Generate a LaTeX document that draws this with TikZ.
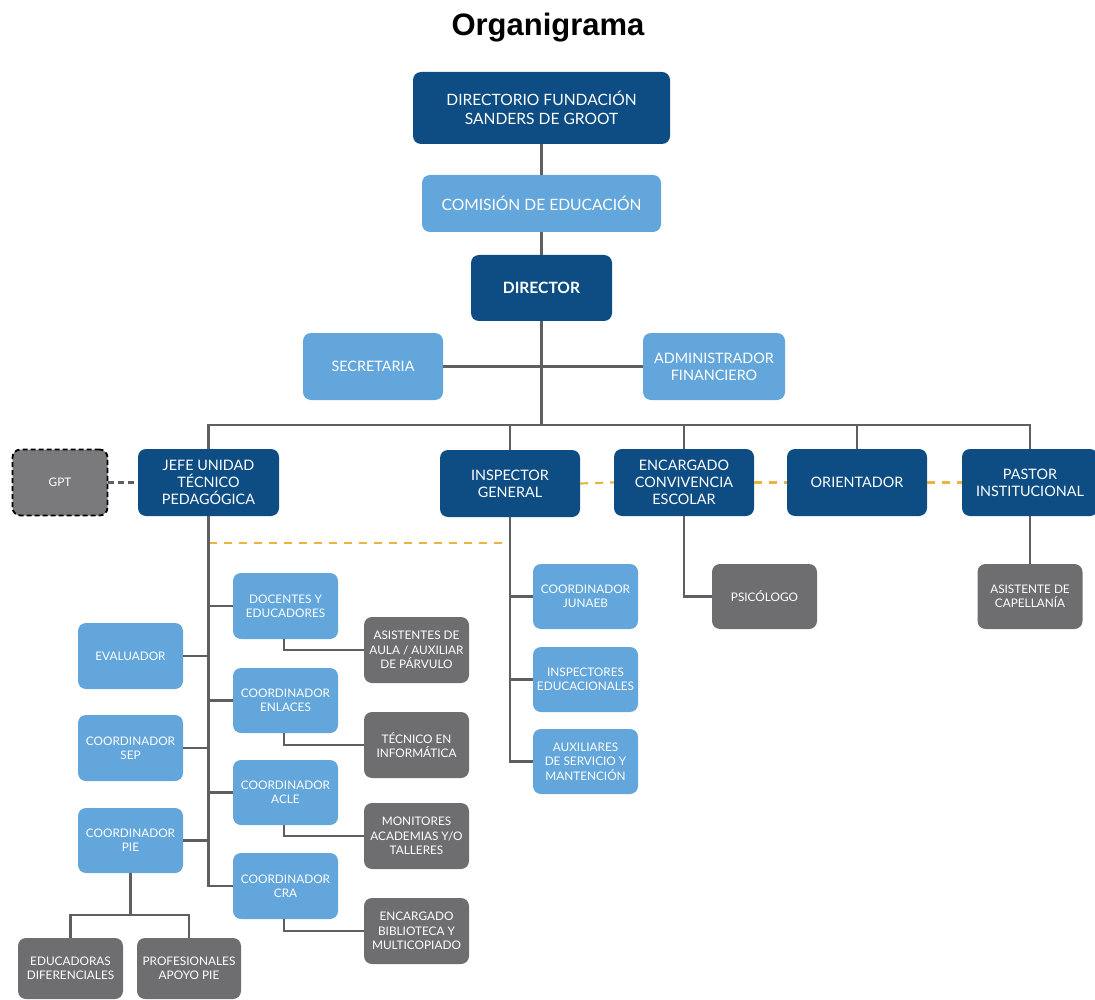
\documentclass[tikz,border=0pt]{standalone}
\usepackage{fontspec}
\setmainfont{Lato}
\newfontfamily\titlefont{Liberation Sans}
\definecolor{dblue}{HTML}{0D4D83}
\definecolor{lblue}{HTML}{62A6DB}
\definecolor{dgray}{HTML}{6E6E70}
\definecolor{ggray}{HTML}{7A7A7C}
\definecolor{lnc}{HTML}{5F5F61}
\definecolor{gold}{HTML}{E9B444}
\begin{document}
\begin{tikzpicture}[x=1pt,y=-1pt,
  box/.style={rounded corners=8pt, text=white, align=center, inner sep=1pt},
  dk/.style={box, fill=dblue},
  lb/.style={box, fill=lblue},
  gr/.style={box, fill=dgray},
  bigf/.style={font=\fontsize{15.6}{19.5}\selectfont},
  midf/.style={font=\fontsize{14.4}{17.2}\selectfont},
  smf/.style={font=\fontsize{11.8}{14.4}\selectfont},
  sz/.style 2 args={minimum width=#1pt, minimum height=#2pt},
  conn/.style={draw=lnc, line width=2.2pt},
  gdash/.style={draw=gold, line width=2.2pt, dash pattern=on 8pt off 7pt},
  kdash/.style={draw=lnc, line width=2.2pt, dash pattern=on 6pt off 4pt}]
\useasboundingbox (0,0) rectangle (1095,1000);

\node[font=\titlefont\bfseries\fontsize{31}{31}\selectfont] (title) at (548,28) {Organigrama};

% top chain
\node[dk, bigf, sz={257}{72}] (dirf) at (541.5,108) {DIRECTORIO FUNDACIÓN\\SANDERS DE GROOT};
\node[lb, bigf, sz={239}{57}] (com) at (541.5,203.5) {COMISIÓN DE EDUCACIÓN};
\node[dk, font=\fontsize{15.6}{19}\selectfont\bfseries, sz={141}{66}] (dir) at (541.5,288) {DIRECTOR};
\node[lb, midf, sz={140}{67}] (sec) at (373,366.5) {SECRETARIA};
\node[lb, midf, sz={142}{67}] (adm) at (714,366.5) {ADMINISTRADOR\\FINANCIERO};
\coordinate (bus) at (541.5,425);

% second row
\node[box, fill=ggray, draw=black, line width=1.8pt, dash pattern=on 5pt off 3pt, font=\fontsize{11.8}{14}\selectfont, sz={95}{66}] (gpt) at (60,482.5) {GPT};
\node[dk, midf, sz={141}{67}] (jefe) at (208.5,482.5) {JEFE UNIDAD\\TÉCNICO\\PEDAGÓGICA};
\node[dk, midf, sz={140}{67}] (insp) at (510,483.5) {INSPECTOR\\GENERAL};
\node[dk, midf, sz={140}{67}] (enc) at (684,482.5) {ENCARGADO\\CONVIVENCIA\\ESCOLAR};
\node[dk, midf, sz={140}{67}] (ori) at (857,482.5) {ORIENTADOR};
\node[dk, midf, sz={136}{67}] (pas) at (1030,482.5) {PASTOR\\INSTITUCIONAL};

% inspector children
\node[lb, smf, sz={105}{65}] (jun) at (585.5,596.5) {COORDINADOR\\JUNAEB};
\node[lb, smf, sz={105}{65}] (insps) at (585.5,679.5) {INSPECTORES\\EDUCACIONALES};
\node[lb, smf, sz={105}{65}] (aux) at (585.5,761.5) {AUXILIARES\\DE SERVICIO Y\\MANTENCIÓN};

% encargado / pastor children
\node[gr, smf, sz={105}{65}] (psi) at (764.5,596.5) {PSICÓLOGO};
\node[gr, smf, sz={105}{65}] (cap) at (1030,596.5) {ASISTENTE DE\\CAPELLANÍA};

% jefe children right
\node[lb, smf, sz={105}{66}] (doc) at (285.5,606) {DOCENTES Y\\EDUCADORES};
\node[lb, smf, sz={105}{65}] (enl) at (285.5,700.5) {COORDINADOR\\ENLACES};
\node[lb, smf, sz={105}{65}] (acle) at (285.5,792.5) {COORDINADOR\\ACLE};
\node[lb, smf, sz={105}{66}] (cra) at (285.5,886) {COORDINADOR\\CRA};
% grey sub-boxes
\node[gr, smf, sz={105}{66}] (asis) at (416.5,650) {ASISTENTES DE\\AULA / AUXILIAR\\DE PÁRVULO};
\node[gr, smf, sz={105}{66}] (tec) at (416.5,745) {TÉCNICO EN\\INFORMÁTICA};
\node[gr, smf, sz={105}{66}] (mon) at (416.5,836) {MONITORES\\ACADEMIAS Y/O\\TALLERES};
\node[gr, smf, sz={105}{66}] (bib) at (416.5,931) {ENCARGADO\\BIBLIOTECA Y\\MULTICOPIADO};

% jefe children left
\node[lb, smf, sz={105}{66}] (eva) at (130.5,656) {EVALUADOR};
\node[lb, smf, sz={105}{66}] (sep) at (130.5,748) {COORDINADOR\\SEP};
\node[lb, smf, sz={105}{65}] (pie) at (130.5,840.5) {COORDINADOR\\PIE};
\node[gr, smf, sz={105}{61}] (edu) at (70.5,968.5) {EDUCADORAS\\DIFERENCIALES};
\node[gr, smf, sz={104}{61}] (pro) at (189,968.5) {PROFESIONALES\\APOYO PIE};
\coordinate (piej) at (130.5,915);

% connectors: top
\draw[conn] (dirf.south) -- (com.north);
\draw[conn] (com.south) -- (dir.north);
\draw[conn] (dir.south) -- (bus);
\draw[conn] (sec.east) -- (adm.west);
\draw[conn] (jefe.north) -- (jefe.north |- bus) -- (pas.north |- bus) -- (pas.north);
\draw[conn] (insp.north |- bus) -- (insp.north);
\draw[conn] (enc.north |- bus) -- (enc.north);
\draw[conn] (ori.north |- bus) -- (ori.north);

% dashed relations
\draw[kdash] (gpt.east) -- (jefe.west);
\draw[gdash] (insp.east) -- (enc.west);
\draw[gdash] (enc.east) -- (ori.west);
\draw[gdash] (ori.east) -- (pas.west);
\draw[gdash] (jefe.south |- 0,543) -- (insp.south |- 0,543);

% inspector
\draw[conn] (insp.south) |- (aux.west);
\draw[conn] (insp.south |- jun.west) -- (jun.west);
\draw[conn] (insp.south |- insps.west) -- (insps.west);

% encargado, pastor
\draw[conn] (enc.south) |- (psi.west);
\draw[conn] (pas.south) -- (cap.north);

% jefe trunk
\draw[conn] (jefe.south) |- (cra.west);
\draw[conn] (jefe.south |- doc.west) -- (doc.west);
\draw[conn] (jefe.south |- enl.west) -- (enl.west);
\draw[conn] (jefe.south |- acle.west) -- (acle.west);
\draw[conn] (jefe.south |- eva.east) -- (eva.east);
\draw[conn] (jefe.south |- sep.east) -- (sep.east);
\draw[conn] (jefe.south |- pie.east) -- (pie.east);

% sub-boxes
\draw[conn] ([xshift=-1.5pt]doc.south) |- (asis.west);
\draw[conn] ([xshift=-1.5pt]enl.south) |- (tec.west);
\draw[conn] ([xshift=-1.5pt]acle.south) |- (mon.west);
\draw[conn] ([xshift=-1.5pt]cra.south) |- (bib.west);

% pie
\draw[conn] (pie.south) -- (piej);
\draw[conn] (edu.north) |- (piej) -| (pro.north);
\end{tikzpicture}
\end{document}
